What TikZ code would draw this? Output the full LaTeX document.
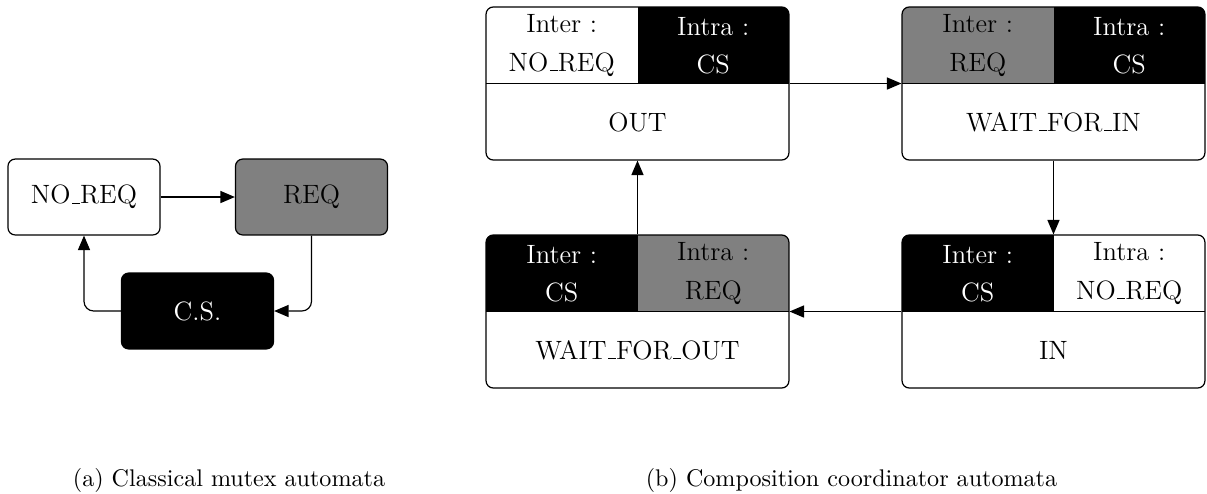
\documentclass[tikz,border=0pt]{standalone}
\usetikzlibrary{arrows.meta}
\newcommand{\uscore}{\leavevmode\kern.06em\vbox{\hrule width.3em}}
\begin{document}
\begin{tikzpicture}[x=0.415pt,y=-0.415pt,
  boxfont/.style={font=\fontsize{11}{15.8}\selectfont},
  smallbox/.style={draw=black, line width=0.5pt, rounded corners=3pt, minimum width=63.1pt, minimum height=31.5pt, inner sep=0pt, boxfont},
  stbox/.style 2 args={draw=black, line width=0.5pt, rounded corners=3pt, minimum width=125.7pt, minimum height=63.5pt, inner sep=0pt, fill=white,
    path picture={
      \fill[#1, sharp corners] (path picture bounding box.north west) rectangle (path picture bounding box.center);
      \fill[#2, sharp corners] (path picture bounding box.north) rectangle (path picture bounding box.east);
      \draw[black, line width=0.5pt, sharp corners] (path picture bounding box.west) -- (path picture bounding box.east);
    }},
  lbl/.style={boxfont, align=center, inner sep=0pt},
  arr/.style={-{Triangle[length=6pt,width=5pt]}, line width=0.5pt, black},
  captxt/.style={font=\fontsize{10}{12}\selectfont, anchor=base, inner sep=0pt}
]
\useasboundingbox (0,0) rectangle (1207,493);

% ---------- (a) classical mutex automata ----------
\node[smallbox, fill=white] (noreq) at (84,197) {NO\uscore REQ};
\node[smallbox, fill=gray] (req) at (311.5,197) {REQ};
\node[smallbox, fill=black, text=white] (cs) at (197.5,311) {C.S.};
\draw[arr] (noreq) -- (req);
\draw[arr, rounded corners=4pt] (req.south) |- (cs.east);
\draw[arr, rounded corners=4pt] (cs.west) -| (noreq.south);

% ---------- (b) composition coordinator automata ----------
\node[stbox={white}{black}] (out) at (637.5,83.5) {};
\node[lbl, text=black] (outA) at (561.75,45.5) {Inter :\\NO\uscore REQ};
\node[lbl, text=white] (outB) at (713.25,45.5) {Intra :\\CS};
\node[lbl] (outC) at (637.5,122) {OUT};

\node[stbox={gray}{black}] (wfi) at (1053.5,83.5) {};
\node[lbl, text=black] (wfiA) at (977.75,45.5) {Inter :\\REQ};
\node[lbl, text=white] (wfiB) at (1129.25,45.5) {Intra :\\CS};
\node[lbl] (wfiC) at (1053.5,122) {WAIT\uscore FOR\uscore IN};

\node[stbox={black}{white}] (in) at (1053.5,311.5) {};
\node[lbl, text=white] (inA) at (977.75,273.5) {Inter :\\CS};
\node[lbl, text=black] (inB) at (1129.25,273.5) {Intra :\\NO\uscore REQ};
\node[lbl] (inC) at (1053.5,350) {IN};

\node[stbox={black}{gray}] (wfo) at (637.5,311.5) {};
\node[lbl, text=white] (wfoA) at (561.75,273.5) {Inter :\\CS};
\node[lbl, text=black] (wfoB) at (713.25,273.5) {Intra :\\REQ};
\node[lbl] (wfoC) at (637.5,350) {WAIT\uscore FOR\uscore OUT};

\draw[arr] (out.east) -- (wfi.west);
\draw[arr] (wfi.south) -- (in.north);
\draw[arr] (in.west) -- (wfo.east);
\draw[arr] (wfo.north) -- (out.south);

% ---------- captions ----------
\node[captxt] (capa) at (229,486) {(a) Classical mutex automata};
\node[captxt] (capb) at (851.5,486) {(b) Composition coordinator automata};
\end{tikzpicture}
\end{document}
